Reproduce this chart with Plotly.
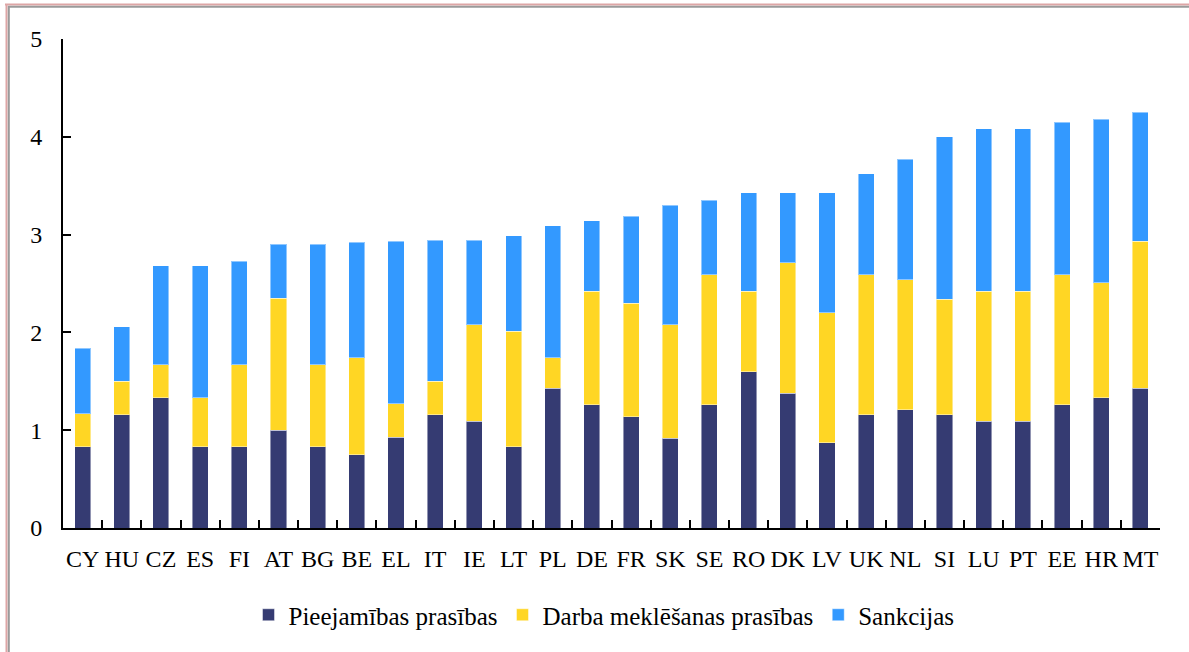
import plotly.graph_objects as go

countries = ["CY", "HU", "CZ", "ES", "FI", "AT", "BG", "BE", "EL", "IT", "IE", "LT", "PL", "DE",
             "FR", "SK", "SE", "RO", "DK", "LV", "UK", "NL", "SI", "LU", "PT", "EE", "HR", "MT"]
pieejamibas = [0.83, 1.16, 1.33, 0.83, 0.83, 1.00, 0.83, 0.75, 0.93, 1.16, 1.09, 0.83, 1.43, 1.26,
               1.14, 0.92, 1.26, 1.60, 1.38, 0.87, 1.16, 1.21, 1.16, 1.09, 1.09, 1.26, 1.33, 1.43]
darba = [0.34, 0.34, 0.34, 0.50, 0.84, 1.35, 0.84, 0.99, 0.34, 0.34, 0.99, 1.18, 0.31, 1.16,
         1.16, 1.16, 1.33, 0.82, 1.33, 1.33, 1.43, 1.33, 1.18, 1.33, 1.33, 1.33, 1.18, 1.50]
sankcijas = [0.67, 0.56, 1.01, 1.35, 1.06, 0.55, 1.23, 1.18, 1.66, 1.44, 0.86, 0.98, 1.35, 0.72,
             0.89, 1.22, 0.76, 1.01, 0.72, 1.23, 1.03, 1.23, 1.66, 1.66, 1.66, 1.56, 1.67, 1.32]
series_names = ["Pieejamības prasības", "Darba meklēšanas prasības", "Sankcijas"]
y_ticks = [0, 1, 2, 3, 4, 5]

colors = ["#353B72", "#FFD624", "#3399FF"]
FONT = "Liberation Serif, Times New Roman, serif"

W, H = 1189, 652
ML, MR, MT_, MB = 63, 29, 39, 124

fig = go.Figure()
for name, vals, col in zip(series_names, [pieejamibas, darba, sankcijas], colors):
    fig.add_trace(go.Bar(
        x=countries, y=vals, name=name,
        marker=dict(color=col, line=dict(color="rgba(255,255,255,0.45)", width=1)),
    ))

def px_x(p):
    return (p - ML) / (W - ML - MR)

def px_y(p):
    return (H - MB - p) / (H - MT_ - MB)

shapes = [
    dict(type="line", xref="paper", yref="paper", x0=px_x(5), x1=px_x(W), y0=px_y(4.5), y1=px_y(4.5),
         line=dict(color="#DDA5A5", width=2)),
    dict(type="line", xref="paper", yref="paper", x0=px_x(8), x1=px_x(W), y0=px_y(6.8), y1=px_y(6.8),
         line=dict(color="#9A9A9A", width=2)),
    dict(type="line", xref="paper", yref="paper", x0=px_x(6.5), x1=px_x(6.5), y0=px_y(4), y1=px_y(H),
         line=dict(color="#DDA5A5", width=2)),
    dict(type="line", xref="paper", yref="paper", x0=px_x(8.8), x1=px_x(8.8), y0=px_y(6), y1=px_y(H),
         line=dict(color="#9A9A9A", width=2)),
]

fig.update_layout(
    width=W, height=H,
    margin=dict(l=ML, r=MR, t=MT_, b=MB, pad=0),
    barmode="stack",
    bargap=0.59,
    plot_bgcolor="white",
    paper_bgcolor="white",
    font=dict(family=FONT, size=24, color="black"),
    showlegend=True,
    legend=dict(orientation="h", x=px_x(604), xanchor="center", y=px_y(615), yanchor="middle",
                font=dict(family=FONT, size=25, color="black"), traceorder="normal",
                itemwidth=30, bgcolor="rgba(0,0,0,0)"),
    shapes=shapes,
)
fig.update_xaxes(
    type="category", showgrid=False, showline=True, linecolor="black", linewidth=2,
    ticks="inside", tickson="boundaries", ticklen=8, tickwidth=2, tickcolor="black",
    tickangle=0,
    tickfont=dict(family=FONT, size=24, color="black"), ticklabelstandoff=8,
    zeroline=False,
)
fig.update_yaxes(
    range=[0, 5], tickvals=y_ticks, showgrid=False, showline=True, linecolor="black", linewidth=2,
    ticks="inside", ticklen=8, tickwidth=2, tickcolor="black",
    tickfont=dict(family=FONT, size=24, color="black"), ticklabelstandoff=14,
    zeroline=False,
)

fig.write_html("out.html", config={"displayModeBar": False},
               post_script="document.body.style.margin='0';document.body.style.overflow='hidden';")
